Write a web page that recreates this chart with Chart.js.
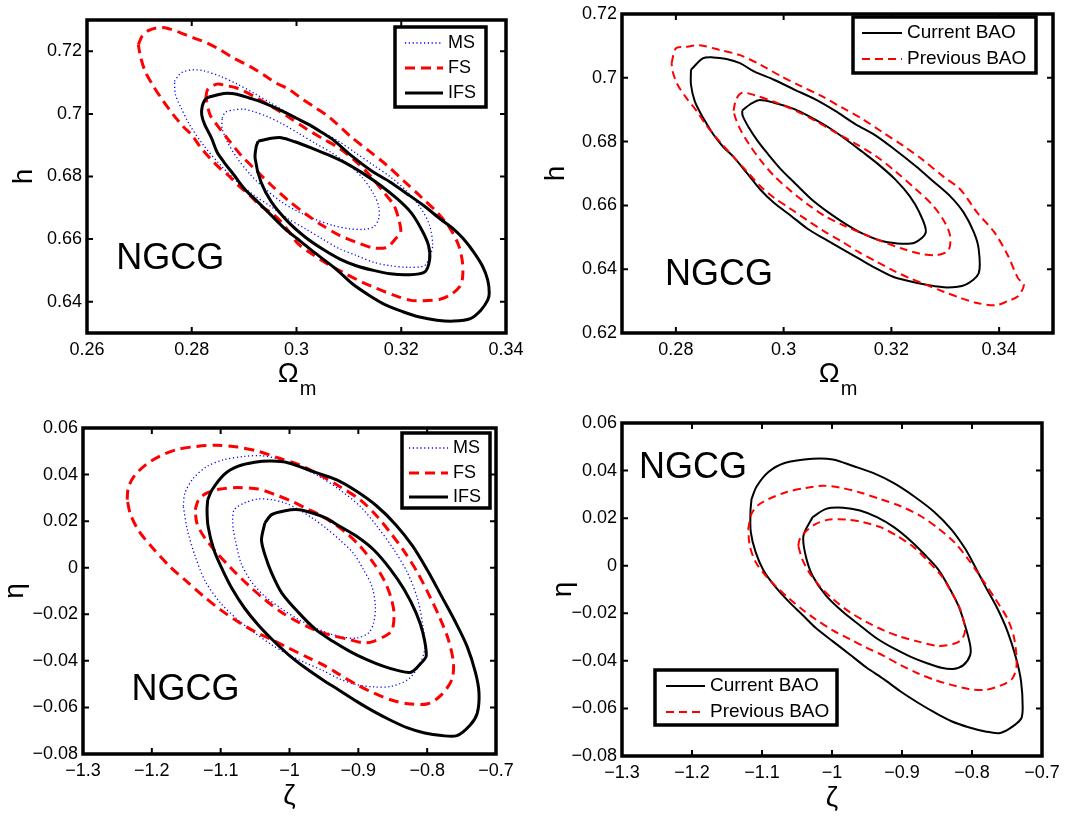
<!DOCTYPE html>
<html>
<head>
<meta charset="utf-8">
<script src="https://cdn.jsdelivr.net/npm/chart.js@4.4.1/dist/chart.umd.min.js"></script>
<style>
  body { margin: 0; background: #fff; }
  #fig { position: relative; width: 1068px; height: 818px; }
  #fig canvas { position: absolute; }
</style>
</head>
<body>
<div id="fig">
  <canvas id="tl" width="534" height="409" style="left:0;top:0"></canvas>
  <canvas id="tr" width="534" height="409" style="left:534px;top:0"></canvas>
  <canvas id="bl" width="534" height="409" style="left:0;top:409px"></canvas>
  <canvas id="br" width="534" height="409" style="left:534px;top:409px"></canvas>
</div>
<script>
// ---- tick values ----
const omTicksTL = [0.26, 0.28, 0.30, 0.32, 0.34];
const hTicksTL = [0.64, 0.66, 0.68, 0.70, 0.72];
const omTicksTR = [0.28, 0.30, 0.32, 0.34];
const hTicksTR = [0.62, 0.64, 0.66, 0.68, 0.70, 0.72];
const zetaTicks = [-1.3, -1.2, -1.1, -1.0, -0.9, -0.8, -0.7];
const etaTicks = [-0.08, -0.06, -0.04, -0.02, 0, 0.02, 0.04, 0.06];

// ---- series names ----
const samples = ['MS', 'FS', 'IFS'];
const baoSets = ['Current BAO', 'Previous BAO'];

// ---- (Omega_m, h) contours, MS / FS / IFS ----
const tlMsOuter = [[0.2767,0.7104],[0.2777,0.7127],[0.2786,0.7136],[0.2803,0.7141],[0.2822,0.7138],[0.2855,0.7120],[0.2887,0.7095],[0.2919,0.7066],[0.2952,0.7034],[0.2984,0.7002],[0.3017,0.6970],[0.3049,0.6943],[0.3082,0.6911],[0.3114,0.6874],[0.3147,0.6836],[0.3179,0.6799],[0.3212,0.6751],[0.3238,0.6697],[0.3254,0.6644],[0.3260,0.6580],[0.3254,0.6542],[0.3244,0.6515],[0.3212,0.6510],[0.3179,0.6515],[0.3147,0.6526],[0.3114,0.6548],[0.3082,0.6569],[0.3049,0.6601],[0.3017,0.6633],[0.2984,0.6665],[0.2952,0.6703],[0.2919,0.6740],[0.2887,0.6783],[0.2855,0.6836],[0.2822,0.6901],[0.2796,0.6965],[0.2780,0.7018],[0.2769,0.7061]];
const tlMsInner = [[0.2858,0.6986],[0.2864,0.7005],[0.2881,0.7013],[0.2900,0.7015],[0.2919,0.7007],[0.2945,0.6991],[0.2971,0.6970],[0.3004,0.6938],[0.3036,0.6906],[0.3069,0.6874],[0.3101,0.6836],[0.3127,0.6794],[0.3147,0.6745],[0.3157,0.6703],[0.3157,0.6665],[0.3147,0.6639],[0.3127,0.6631],[0.3101,0.6633],[0.3069,0.6644],[0.3036,0.6663],[0.3004,0.6687],[0.2971,0.6719],[0.2939,0.6762],[0.2913,0.6804],[0.2887,0.6858],[0.2868,0.6911],[0.2858,0.6954]];
const tlFsOuter = [[0.2698,0.7221],[0.2705,0.7248],[0.2717,0.7266],[0.2733,0.7275],[0.2749,0.7275],[0.2771,0.7264],[0.2803,0.7243],[0.2829,0.7227],[0.2854,0.7205],[0.2879,0.7179],[0.2911,0.7152],[0.2937,0.7125],[0.2962,0.7098],[0.2987,0.7077],[0.3013,0.7045],[0.3038,0.7018],[0.3063,0.6989],[0.3106,0.6924],[0.3139,0.6881],[0.3171,0.6838],[0.3206,0.6784],[0.3239,0.6733],[0.3271,0.6681],[0.3294,0.6632],[0.3310,0.6578],[0.3317,0.6524],[0.3317,0.6476],[0.3312,0.6449],[0.3294,0.6422],[0.3274,0.6408],[0.3242,0.6403],[0.3216,0.6405],[0.3184,0.6422],[0.3152,0.6443],[0.3126,0.6462],[0.3094,0.6489],[0.3061,0.6519],[0.3029,0.6553],[0.3003,0.6585],[0.2985,0.6625],[0.2968,0.6660],[0.2949,0.6687],[0.2930,0.6708],[0.2911,0.6740],[0.2892,0.6767],[0.2873,0.6799],[0.2854,0.6826],[0.2835,0.6858],[0.2816,0.6895],[0.2800,0.6933],[0.2784,0.6959],[0.2765,0.6997],[0.2746,0.7040],[0.2727,0.7088],[0.2711,0.7136],[0.2702,0.7184]];
const tlFsInner = [[0.2827,0.7050],[0.2830,0.7077],[0.2848,0.7095],[0.2864,0.7091],[0.2887,0.7082],[0.2919,0.7056],[0.2952,0.7024],[0.2984,0.6991],[0.3017,0.6954],[0.3049,0.6922],[0.3082,0.6890],[0.3114,0.6847],[0.3140,0.6804],[0.3166,0.6751],[0.3186,0.6708],[0.3195,0.6665],[0.3199,0.6622],[0.3189,0.6601],[0.3173,0.6574],[0.3147,0.6572],[0.3114,0.6590],[0.3082,0.6612],[0.3049,0.6644],[0.3017,0.6681],[0.2984,0.6724],[0.2952,0.6772],[0.2919,0.6826],[0.2894,0.6868],[0.2868,0.6922],[0.2848,0.6965],[0.2835,0.6997]];
const tlIfsOuter = [[0.2832,0.7053],[0.2854,0.7063],[0.2867,0.7066],[0.2886,0.7063],[0.2911,0.7050],[0.2930,0.7040],[0.2949,0.7027],[0.2975,0.7007],[0.3000,0.6986],[0.3025,0.6965],[0.3051,0.6938],[0.3070,0.6917],[0.3106,0.6865],[0.3145,0.6816],[0.3177,0.6784],[0.3210,0.6746],[0.3242,0.6708],[0.3274,0.6665],[0.3300,0.6632],[0.3319,0.6600],[0.3339,0.6557],[0.3355,0.6514],[0.3365,0.6470],[0.3368,0.6427],[0.3365,0.6405],[0.3352,0.6373],[0.3332,0.6346],[0.3300,0.6338],[0.3268,0.6341],[0.3235,0.6351],[0.3203,0.6368],[0.3171,0.6389],[0.3139,0.6420],[0.3106,0.6458],[0.3075,0.6505],[0.3036,0.6555],[0.3004,0.6598],[0.2978,0.6633],[0.2952,0.6676],[0.2926,0.6719],[0.2900,0.6762],[0.2881,0.6804],[0.2861,0.6847],[0.2848,0.6879],[0.2838,0.6922],[0.2825,0.6965],[0.2819,0.6997],[0.2820,0.7024],[0.2825,0.7045]];
const tlIfsInner = [[0.2927,0.6913],[0.2952,0.6922],[0.2971,0.6924],[0.2997,0.6911],[0.3030,0.6890],[0.3062,0.6868],[0.3095,0.6842],[0.3127,0.6810],[0.3160,0.6772],[0.3192,0.6729],[0.3218,0.6686],[0.3238,0.6633],[0.3252,0.6580],[0.3254,0.6532],[0.3244,0.6494],[0.3212,0.6486],[0.3179,0.6489],[0.3147,0.6500],[0.3114,0.6515],[0.3082,0.6537],[0.3049,0.6569],[0.3017,0.6606],[0.2984,0.6655],[0.2952,0.6719],[0.2932,0.6783],[0.2921,0.6858],[0.2923,0.6895]];

// ---- (Omega_m, h) contours, current vs previous BAO ----
const trCurOuter = [[0.2828,0.7025],[0.2850,0.7061],[0.2869,0.7064],[0.2894,0.7059],[0.2919,0.7046],[0.2945,0.7020],[0.2982,0.6994],[0.3020,0.6963],[0.3058,0.6933],[0.3095,0.6897],[0.3133,0.6855],[0.3171,0.6819],[0.3208,0.6773],[0.3246,0.6722],[0.3278,0.6675],[0.3309,0.6629],[0.3334,0.6578],[0.3353,0.6516],[0.3362,0.6464],[0.3362,0.6387],[0.3337,0.6351],[0.3303,0.6343],[0.3265,0.6351],[0.3234,0.6362],[0.3202,0.6377],[0.3171,0.6403],[0.3139,0.6434],[0.3108,0.6464],[0.3076,0.6495],[0.3045,0.6526],[0.3014,0.6567],[0.2982,0.6608],[0.2957,0.6649],[0.2932,0.6701],[0.2907,0.6752],[0.2888,0.6783],[0.2869,0.6824],[0.2850,0.6876],[0.2835,0.6927],[0.2828,0.6979]];
const trCurInner = [[0.2923,0.6897],[0.2938,0.6917],[0.2954,0.6930],[0.2982,0.6922],[0.3020,0.6902],[0.3051,0.6876],[0.3083,0.6845],[0.3114,0.6809],[0.3146,0.6768],[0.3177,0.6727],[0.3208,0.6680],[0.3234,0.6629],[0.3252,0.6578],[0.3264,0.6516],[0.3243,0.6483],[0.3208,0.6481],[0.3177,0.6491],[0.3146,0.6512],[0.3114,0.6543],[0.3083,0.6578],[0.3051,0.6620],[0.3020,0.6671],[0.2995,0.6713],[0.2970,0.6763],[0.2951,0.6804],[0.2935,0.6845],[0.2924,0.6881]];
const trPrevOuter = [[0.2792,0.7046],[0.2800,0.7092],[0.2819,0.7097],[0.2844,0.7102],[0.2882,0.7087],[0.2919,0.7071],[0.2957,0.7041],[0.2995,0.7005],[0.3032,0.6974],[0.3070,0.6943],[0.3108,0.6907],[0.3146,0.6871],[0.3183,0.6830],[0.3221,0.6788],[0.3259,0.6742],[0.3296,0.6691],[0.3328,0.6650],[0.3359,0.6578],[0.3391,0.6516],[0.3416,0.6444],[0.3435,0.6372],[0.3446,0.6351],[0.3435,0.6315],[0.3416,0.6300],[0.3394,0.6287],[0.3359,0.6294],[0.3328,0.6310],[0.3296,0.6330],[0.3265,0.6351],[0.3234,0.6372],[0.3202,0.6397],[0.3171,0.6425],[0.3139,0.6454],[0.3108,0.6487],[0.3076,0.6518],[0.3045,0.6552],[0.3014,0.6588],[0.2982,0.6624],[0.2957,0.6660],[0.2932,0.6706],[0.2907,0.6752],[0.2882,0.6799],[0.2857,0.6850],[0.2838,0.6897],[0.2819,0.6938],[0.2803,0.6979],[0.2794,0.7020]];
const trPrevInner = [[0.2907,0.6897],[0.2912,0.6933],[0.2923,0.6953],[0.2945,0.6946],[0.2982,0.6925],[0.3020,0.6899],[0.3058,0.6866],[0.3095,0.6830],[0.3133,0.6794],[0.3171,0.6755],[0.3208,0.6706],[0.3246,0.6650],[0.3278,0.6598],[0.3299,0.6547],[0.3309,0.6505],[0.3306,0.6459],[0.3284,0.6444],[0.3252,0.6449],[0.3221,0.6464],[0.3183,0.6487],[0.3146,0.6512],[0.3108,0.6540],[0.3076,0.6567],[0.3045,0.6603],[0.3014,0.6644],[0.2982,0.6693],[0.2957,0.6742],[0.2935,0.6794],[0.2919,0.6840],[0.2910,0.6877]];

// ---- (zeta, eta) contours, MS / FS / IFS ----
const blMsOuter = [[-1.1543,0.0264],[-1.1519,0.0321],[-1.1395,0.0385],[-1.1198,0.0435],[-1.0951,0.0464],[-1.0654,0.0478],[-1.0407,0.0481],[-1.0161,0.0467],[-0.9864,0.0435],[-0.9568,0.0392],[-0.9272,0.0335],[-0.8975,0.0264],[-0.8729,0.0178],[-0.8482,0.0077],[-0.8284,-0.0023],[-0.8136,-0.0137],[-0.8062,-0.0252],[-0.8037,-0.0352],[-0.8126,-0.0424],[-0.8284,-0.0481],[-0.8531,-0.0510],[-0.8778,-0.0512],[-0.9025,-0.0502],[-0.9272,-0.0478],[-0.9519,-0.0441],[-0.9766,-0.0409],[-1.0012,-0.0374],[-1.0259,-0.0331],[-1.0506,-0.0280],[-1.0753,-0.0223],[-1.1000,-0.0152],[-1.1222,-0.0059],[-1.1370,0.0049],[-1.1484,0.0163]];
const blMsInner = [[-1.0827,0.0206],[-1.0803,0.0249],[-1.0654,0.0278],[-1.0457,0.0295],[-1.0259,0.0292],[-1.0062,0.0278],[-0.9864,0.0249],[-0.9667,0.0213],[-0.9469,0.0170],[-0.9272,0.0120],[-0.9074,0.0063],[-0.8926,-0.0008],[-0.8803,-0.0080],[-0.8753,-0.0166],[-0.8778,-0.0237],[-0.8852,-0.0280],[-0.9025,-0.0302],[-0.9222,-0.0298],[-0.9420,-0.0283],[-0.9617,-0.0259],[-0.9864,-0.0223],[-1.0111,-0.0177],[-1.0358,-0.0123],[-1.0556,-0.0059],[-1.0704,0.0020],[-1.0778,0.0106],[-1.0817,0.0163]];
const blFsOuter = [[-1.2358,0.0292],[-1.2343,0.0342],[-1.2259,0.0392],[-1.2086,0.0443],[-1.1889,0.0478],[-1.1642,0.0507],[-1.1346,0.0521],[-1.1050,0.0526],[-1.0753,0.0518],[-1.0457,0.0500],[-1.0161,0.0471],[-0.9864,0.0443],[-0.9568,0.0400],[-0.9272,0.0349],[-0.8975,0.0292],[-0.8729,0.0221],[-0.8531,0.0149],[-0.8334,0.0070],[-0.8136,-0.0023],[-0.7963,-0.0123],[-0.7815,-0.0216],[-0.7692,-0.0309],[-0.7618,-0.0409],[-0.7642,-0.0481],[-0.7790,-0.0545],[-0.7988,-0.0584],[-0.8284,-0.0584],[-0.8531,-0.0567],[-0.8778,-0.0538],[-0.9025,-0.0502],[-0.9272,-0.0459],[-0.9519,-0.0416],[-0.9766,-0.0381],[-1.0012,-0.0345],[-1.0259,-0.0309],[-1.0506,-0.0274],[-1.0753,-0.0231],[-1.1000,-0.0181],[-1.1247,-0.0123],[-1.1494,-0.0059],[-1.1741,0.0006],[-1.1988,0.0085],[-1.2185,0.0156],[-1.2309,0.0228]];
const blFsInner = [[-1.1370,0.0249],[-1.1321,0.0292],[-1.1198,0.0321],[-1.1000,0.0338],[-1.0753,0.0344],[-1.0457,0.0338],[-1.0210,0.0314],[-0.9963,0.0285],[-0.9766,0.0256],[-0.9568,0.0228],[-0.9370,0.0192],[-0.9173,0.0149],[-0.8975,0.0092],[-0.8778,0.0020],[-0.8630,-0.0051],[-0.8531,-0.0123],[-0.8482,-0.0194],[-0.8506,-0.0266],[-0.8580,-0.0288],[-0.8778,-0.0316],[-0.8926,-0.0323],[-0.9124,-0.0309],[-0.9370,-0.0292],[-0.9617,-0.0269],[-0.9864,-0.0235],[-1.0111,-0.0192],[-1.0358,-0.0137],[-1.0605,-0.0073],[-1.0852,-0.0001],[-1.1074,0.0070],[-1.1247,0.0135],[-1.1346,0.0192]];
const blIfsOuter = [[-1.1188,0.0292],[-1.1124,0.0335],[-1.0951,0.0400],[-1.0753,0.0435],[-1.0506,0.0453],[-1.0259,0.0458],[-1.0012,0.0450],[-0.9667,0.0414],[-0.9321,0.0378],[-0.9025,0.0328],[-0.8729,0.0264],[-0.8457,0.0185],[-0.8210,0.0093],[-0.7988,-0.0015],[-0.7790,-0.0123],[-0.7593,-0.0231],[-0.7420,-0.0338],[-0.7297,-0.0452],[-0.7247,-0.0538],[-0.7272,-0.0624],[-0.7371,-0.0674],[-0.7568,-0.0721],[-0.7790,-0.0721],[-0.8037,-0.0710],[-0.8284,-0.0688],[-0.8531,-0.0655],[-0.8778,-0.0617],[-0.9025,-0.0574],[-0.9272,-0.0527],[-0.9519,-0.0481],[-0.9766,-0.0431],[-1.0012,-0.0374],[-1.0259,-0.0306],[-1.0457,-0.0245],[-1.0654,-0.0173],[-1.0827,-0.0094],[-1.0975,-0.0008],[-1.1099,0.0077],[-1.1183,0.0178],[-1.1198,0.0249]];
const blIfsInner = [[-1.0358,0.0192],[-1.0259,0.0228],[-1.0062,0.0245],[-0.9864,0.0249],[-0.9667,0.0235],[-0.9469,0.0213],[-0.9272,0.0178],[-0.9025,0.0135],[-0.8778,0.0077],[-0.8531,-0.0008],[-0.8334,-0.0094],[-0.8161,-0.0194],[-0.8062,-0.0280],[-0.8013,-0.0378],[-0.8087,-0.0409],[-0.8235,-0.0449],[-0.8432,-0.0441],[-0.8630,-0.0424],[-0.8877,-0.0395],[-0.9124,-0.0359],[-0.9370,-0.0316],[-0.9617,-0.0266],[-0.9864,-0.0194],[-1.0111,-0.0109],[-1.0259,-0.0023],[-1.0358,0.0056],[-1.0407,0.0120]];

// ---- (zeta, eta) contours, current vs previous BAO ----
const brCurOuter = [[-1.1150,0.0280],[-1.1077,0.0333],[-1.0908,0.0394],[-1.0666,0.0433],[-1.0278,0.0450],[-0.9988,0.0447],[-0.9697,0.0419],[-0.9406,0.0389],[-0.9116,0.0347],[-0.8825,0.0291],[-0.8535,0.0225],[-0.8293,0.0152],[-0.8099,0.0072],[-0.7954,-0.0005],[-0.7808,-0.0088],[-0.7639,-0.0179],[-0.7493,-0.0276],[-0.7372,-0.0387],[-0.7300,-0.0484],[-0.7276,-0.0596],[-0.7300,-0.0644],[-0.7470,-0.0686],[-0.7615,-0.0704],[-0.7808,-0.0697],[-0.8050,-0.0679],[-0.8293,-0.0654],[-0.8535,-0.0617],[-0.8777,-0.0575],[-0.9019,-0.0529],[-0.9261,-0.0477],[-0.9503,-0.0429],[-0.9746,-0.0373],[-0.9988,-0.0318],[-1.0230,-0.0262],[-1.0424,-0.0206],[-1.0617,-0.0151],[-1.0811,-0.0088],[-1.0980,-0.0019],[-1.1092,0.0058],[-1.1160,0.0141],[-1.1165,0.0225]];
const brCurInner = [[-1.0278,0.0204],[-1.0085,0.0239],[-0.9842,0.0244],[-0.9600,0.0232],[-0.9358,0.0204],[-0.9116,0.0162],[-0.8874,0.0104],[-0.8680,0.0048],[-0.8486,-0.0014],[-0.8341,-0.0084],[-0.8196,-0.0167],[-0.8099,-0.0251],[-0.8026,-0.0334],[-0.8026,-0.0376],[-0.8123,-0.0418],[-0.8268,-0.0434],[-0.8438,-0.0429],[-0.8632,-0.0411],[-0.8874,-0.0383],[-0.9116,-0.0348],[-0.9358,-0.0306],[-0.9600,-0.0251],[-0.9842,-0.0195],[-1.0085,-0.0126],[-1.0278,-0.0042],[-1.0375,0.0041],[-1.0409,0.0125]];
const brPrevOuter = [[-1.1198,0.0152],[-1.1150,0.0218],[-1.1053,0.0255],[-1.0908,0.0280],[-1.0666,0.0308],[-1.0375,0.0327],[-1.0133,0.0336],[-0.9891,0.0329],[-0.9600,0.0308],[-0.9310,0.0280],[-0.9019,0.0250],[-0.8729,0.0208],[-0.8487,0.0158],[-0.8246,0.0097],[-0.8050,0.0025],[-0.7857,-0.0056],[-0.7666,-0.0140],[-0.7493,-0.0223],[-0.7397,-0.0306],[-0.7363,-0.0418],[-0.7421,-0.0473],[-0.7567,-0.0501],[-0.7808,-0.0522],[-0.8050,-0.0518],[-0.8293,-0.0501],[-0.8535,-0.0480],[-0.8777,-0.0452],[-0.9019,-0.0418],[-0.9261,-0.0379],[-0.9503,-0.0345],[-0.9746,-0.0309],[-0.9988,-0.0272],[-1.0230,-0.0226],[-1.0424,-0.0184],[-1.0617,-0.0137],[-1.0811,-0.0084],[-1.0956,-0.0039],[-1.1092,0.0016],[-1.1174,0.0083]];
const brPrevInner = [[-1.0482,0.0083],[-1.0462,0.0111],[-1.0375,0.0144],[-1.0230,0.0176],[-1.0036,0.0194],[-0.9794,0.0194],[-0.9552,0.0183],[-0.9310,0.0162],[-0.9068,0.0125],[-0.8825,0.0076],[-0.8632,0.0020],[-0.8438,-0.0042],[-0.8293,-0.0112],[-0.8171,-0.0181],[-0.8099,-0.0265],[-0.8138,-0.0306],[-0.8245,-0.0327],[-0.8487,-0.0337],[-0.8777,-0.0318],[-0.9019,-0.0299],[-0.9261,-0.0272],[-0.9503,-0.0237],[-0.9746,-0.0195],[-0.9988,-0.0140],[-1.0181,-0.0084],[-1.0327,-0.0028],[-1.0424,0.0027]];

const FONT = '"Liberation Sans", Arial, Helvetica, sans-serif';
Chart.defaults.font.family = FONT;
Chart.defaults.color = '#000';

// line styles per series
const thickStyle = {
  'MS': { color: '#0000ff', width: 1.3, dash: [1.2, 2.6] },
  'FS': { color: '#ff0000', width: 3, dash: [10, 6] },
  'IFS': { color: '#000000', width: 3, dash: [] }
};
const thinStyle = {
  'Current BAO': { color: '#000000', width: 2, dash: [] },
  'Previous BAO': { color: '#ff0000', width: 2, dash: [8, 5] }
};

function fmtTick(v) {
  return String(Number(v.toFixed(4))).replace('-', '\u2212');
}

function contourSets(label, style, contours) {
  return contours.map(pts => ({
    label: label,
    data: pts.concat([pts[0]]).map(p => ({ x: p[0], y: p[1] })),
    showLine: true,
    pointRadius: 0,
    borderColor: style.color,
    borderWidth: style.width,
    borderDash: style.dash,
    tension: 0.3,
    fill: false
  }));
}

// frame, inward ticks, axis titles, text tag and boxed legend
const decor = {
  id: 'decor',
  afterDatasetsDraw(chart, args, o) {
    const ctx = chart.ctx, a = chart.chartArea;
    const xs = chart.scales.x, ys = chart.scales.y;
    ctx.save();
    ctx.setLineDash([]);

    // model tag
    ctx.fillStyle = '#000';
    ctx.font = '36px ' + FONT;
    ctx.textAlign = 'left';
    ctx.textBaseline = 'middle';
    ctx.fillText(o.tag.text, xs.getPixelForValue(o.tag.x), ys.getPixelForValue(o.tag.y));

    // ticks pointing inside on all four sides
    ctx.strokeStyle = '#000';
    ctx.lineWidth = 2;
    ctx.beginPath();
    xs.ticks.forEach(t => {
      const px = xs.getPixelForValue(t.value);
      ctx.moveTo(px, a.bottom); ctx.lineTo(px, a.bottom - 6);
      ctx.moveTo(px, a.top); ctx.lineTo(px, a.top + 6);
    });
    ys.ticks.forEach(t => {
      const py = ys.getPixelForValue(t.value);
      ctx.moveTo(a.left, py); ctx.lineTo(a.left + 6, py);
      ctx.moveTo(a.right, py); ctx.lineTo(a.right - 6, py);
    });
    ctx.stroke();

    ctx.lineWidth = 3.5;
    ctx.strokeRect(a.left, a.top, a.right - a.left, a.bottom - a.top);

    // legend box
    const L = o.legend;
    ctx.fillStyle = '#fff';
    ctx.fillRect(L.left, L.top, L.width, L.height);
    ctx.lineWidth = 3.5;
    ctx.strokeRect(L.left, L.top, L.width, L.height);
    ctx.font = L.fontSize + 'px ' + FONT;
    ctx.textBaseline = 'middle';
    ctx.textAlign = 'left';
    L.items.forEach((name, i) => {
      const st = o.styles[name];
      const y = L.rows[i];
      ctx.strokeStyle = st.color;
      ctx.lineWidth = st.width;
      ctx.setLineDash(st.dash);
      ctx.beginPath();
      ctx.moveTo(L.sample[0], y);
      ctx.lineTo(L.sample[1], y);
      ctx.stroke();
      ctx.fillStyle = '#000';
      ctx.fillText(name, L.textX, y);
    });
    ctx.setLineDash([]);

    // axis titles
    ctx.fillStyle = '#000';
    const cx = (a.left + a.right) / 2, cy = (a.top + a.bottom) / 2;
    ctx.save();
    ctx.translate(a.left - o.yTitle.offset, cy);
    ctx.rotate(-Math.PI / 2);
    ctx.font = '28px ' + FONT;
    ctx.textAlign = 'center';
    ctx.textBaseline = 'middle';
    ctx.fillText(o.yTitle.text, 0, 0);
    ctx.restore();

    ctx.font = '28px ' + FONT;
    if (o.xTitle.sub) {
      const wMain = ctx.measureText(o.xTitle.text).width;
      ctx.font = '20px ' + FONT;
      const wSub = ctx.measureText(o.xTitle.sub).width;
      const x0 = cx - (wMain + wSub) / 2;
      ctx.textAlign = 'left';
      ctx.textBaseline = 'alphabetic';
      ctx.font = '28px ' + FONT;
      ctx.fillText(o.xTitle.text, x0, a.bottom + 49);
      ctx.font = '20px ' + FONT;
      ctx.fillText(o.xTitle.sub, x0 + wMain + 1, a.bottom + 62);
    } else {
      ctx.textAlign = 'center';
      ctx.textBaseline = 'middle';
      ctx.fillText(o.xTitle.text, cx, a.bottom + 42);
    }
    ctx.restore();
  }
};

function axis(min, max, tickVals, fitKey, fitVal, pad) {
  return {
    type: 'linear',
    min: min,
    max: max,
    afterBuildTicks: ax => { ax.ticks = tickVals.map(v => ({ value: v })); },
    afterFit: ax => { ax[fitKey] = fitVal; },
    grid: { display: false, drawTicks: false },
    border: { display: false },
    ticks: {
      padding: pad,
      autoSkip: false,
      maxRotation: 0,
      color: '#000',
      font: { size: 18, lineHeight: 1 },
      callback: v => fmtTick(v)
    }
  };
}

function makePanel(id, p) {
  new Chart(document.getElementById(id), {
    type: 'scatter',
    data: { datasets: p.datasets },
    options: {
      responsive: false,
      animation: false,
      devicePixelRatio: 1,
      layout: { padding: { left: 0, top: p.top, right: p.right, bottom: 0 } },
      scales: {
        x: axis(p.xRange[0], p.xRange[1], p.xTicks, 'height', p.xh, 8),
        y: axis(p.yRange[0], p.yRange[1], p.yTicks, 'width', p.yw, 5)
      },
      plugins: {
        legend: { display: false },
        tooltip: { enabled: false },
        decor: {
          tag: p.tag,
          styles: p.styles,
          legend: p.legend,
          xTitle: p.xTitle,
          yTitle: p.yTitle
        }
      }
    },
    plugins: [decor]
  });
}

makePanel('tl', {
  top: 20, right: 28, yw: 87, xh: 76,
  xRange: [0.26, 0.34], yRange: [0.63, 0.73],
  xTicks: omTicksTL, yTicks: hTicksTL,
  styles: thickStyle,
  datasets: [].concat(
    contourSets('IFS', thickStyle['IFS'], [tlIfsOuter, tlIfsInner]),
    contourSets('FS', thickStyle['FS'], [tlFsOuter, tlFsInner]),
    contourSets('MS', thickStyle['MS'], [tlMsOuter, tlMsInner])
  ),
  tag: { text: 'NGCG', x: 0.2656, y: 0.6537 },
  legend: { left: 395, top: 27, width: 91, height: 80, rows: [43, 68, 93], sample: [405, 443], textX: 448, fontSize: 18, items: samples },
  xTitle: { text: '\u03A9', sub: 'm' },
  yTitle: { text: 'h', offset: 63 }
});

makePanel('tr', {
  top: 9, right: 15, yw: 88, xh: 76,
  xRange: [0.27, 0.35], yRange: [0.62, 0.72],
  xTicks: omTicksTR, yTicks: hTicksTR,
  styles: thinStyle,
  datasets: [].concat(
    contourSets('Previous BAO', thinStyle['Previous BAO'], [trPrevOuter, trPrevInner]),
    contourSets('Current BAO', thinStyle['Current BAO'], [trCurOuter, trCurInner])
  ),
  tag: { text: 'NGCG', x: 0.2780, y: 0.6381 },
  legend: { left: 319, top: 17, width: 183, height: 56, rows: [33, 59], sample: [328, 368], textX: 373, fontSize: 19, items: baoSets },
  xTitle: { text: '\u03A9', sub: 'm' },
  yTitle: { text: 'h', offset: 66 }
});

makePanel('bl', {
  top: 19, right: 38, yw: 83, xh: 64,
  xRange: [-1.3, -0.7], yRange: [-0.08, 0.06],
  xTicks: zetaTicks, yTicks: etaTicks,
  styles: thickStyle,
  datasets: [].concat(
    contourSets('IFS', thickStyle['IFS'], [blIfsOuter, blIfsInner]),
    contourSets('FS', thickStyle['FS'], [blFsOuter, blFsInner]),
    contourSets('MS', thickStyle['MS'], [blMsOuter, blMsInner])
  ),
  tag: { text: 'NGCG', x: -1.2294, y: -0.0527 },
  legend: { left: 402, top: 24, width: 88, height: 75, rows: [39, 64, 88], sample: [409, 448], textX: 453, fontSize: 18, items: samples },
  xTitle: { text: '\u03B6' },
  yTitle: { text: '\u03B7', offset: 68 }
});

makePanel('br', {
  top: 14, right: 26, yw: 88, xh: 62,
  xRange: [-1.3, -0.7], yRange: [-0.08, 0.06],
  xTicks: zetaTicks, yTicks: etaTicks,
  styles: thinStyle,
  datasets: [].concat(
    contourSets('Previous BAO', thinStyle['Previous BAO'], [brPrevOuter, brPrevInner]),
    contourSets('Current BAO', thinStyle['Current BAO'], [brCurOuter, brCurInner])
  ),
  tag: { text: 'NGCG', x: -1.2758, y: 0.0410 },
  legend: { left: 121, top: 261, width: 182, height: 55, rows: [277, 303], sample: [132, 171], textX: 176, fontSize: 19, items: baoSets },
  xTitle: { text: '\u03B6' },
  yTitle: { text: '\u03B7', offset: 59 }
});
</script>
</body>
</html>
